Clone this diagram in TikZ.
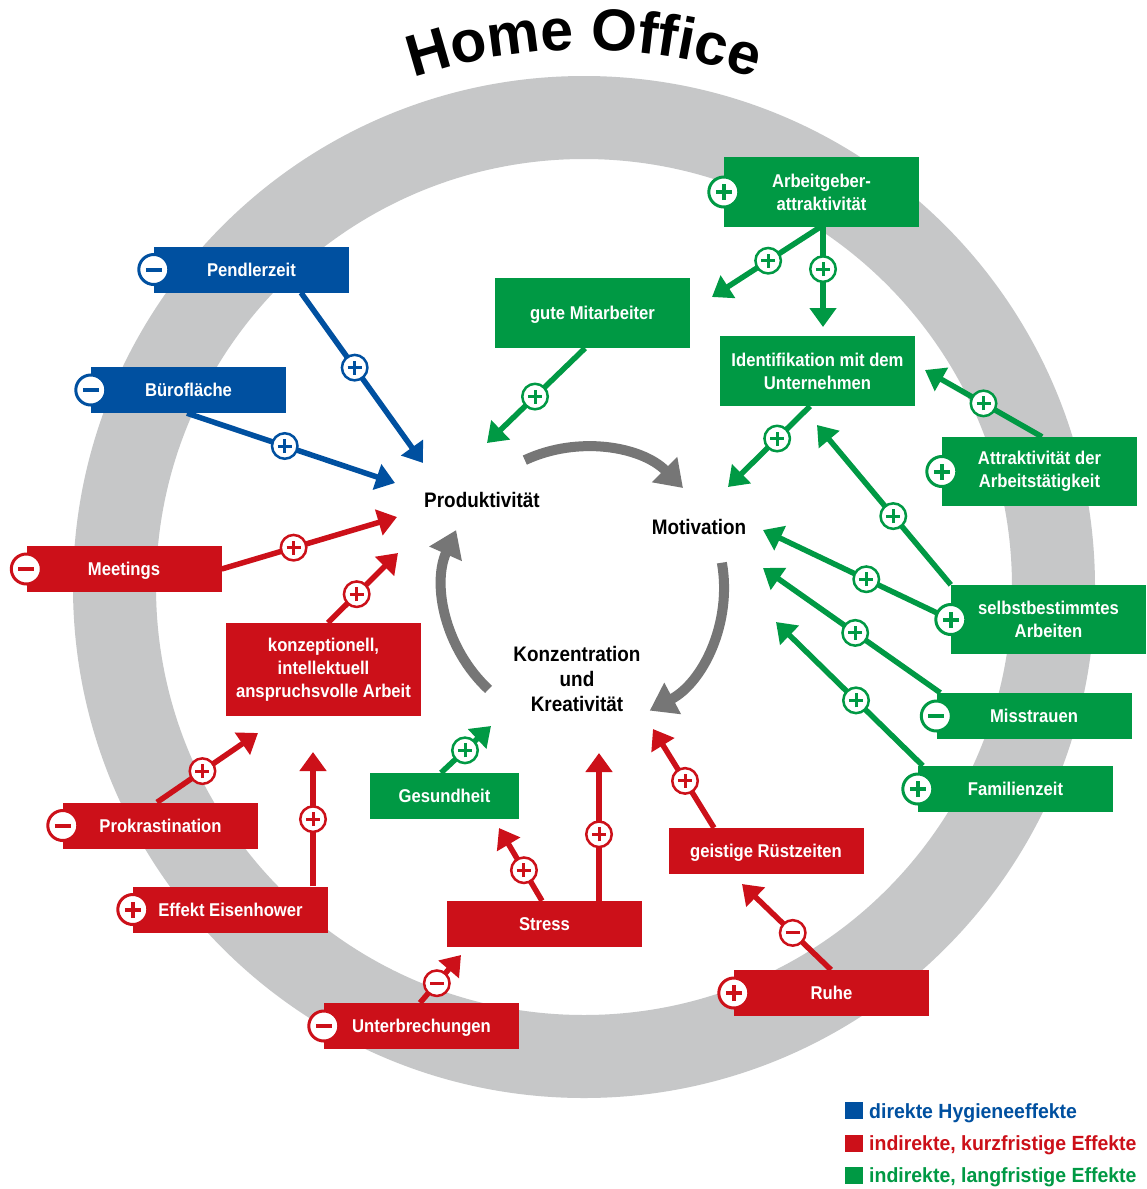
\documentclass[tikz,border=0pt]{standalone}
\usepackage{fontspec}
\setmainfont{Liberation Sans}
\newfontfamily\labfont{Liberation Sans}[FakeStretch=0.9]
\newfontfamily\legfont{Liberation Sans}[FakeStretch=0.95]
\usetikzlibrary{arrows.meta,decorations.text,calc}
\pgfdeclarelayer{bg}
\pgfdeclarelayer{conn}
\pgfsetlayers{bg,conn,main}
\definecolor{hblue}{RGB}{0,80,160}
\definecolor{hred}{RGB}{204,16,25}
\definecolor{hgreen}{RGB}{0,153,68}
\definecolor{ringgray}{RGB}{198,199,200}
\definecolor{cycgray}{RGB}{118,118,118}
\newcommand\boxfnt{\labfont\bfseries\fontsize{18.5}{23}\selectfont}
\newcommand\ctrfnt{\labfont\bfseries\fontsize{21}{25}\selectfont}
\newcommand\legfnt{\legfont\bfseries\fontsize{20.5}{24}\selectfont}
\newcommand\titlefnt{\bfseries\fontsize{59}{59}\selectfont}
\tikzset{
 sgbase/.style={circle, fill=white, draw=#1, inner sep=0pt},
 sgp/.style={sgbase=#1, line width=2.5pt, minimum size=25.5pt,
   path picture={\draw[arrows=-, #1, line width=3pt]
     ([xshift=-7pt]path picture bounding box.center) -- ([xshift=7pt]path picture bounding box.center)
     ([yshift=-7pt]path picture bounding box.center) -- ([yshift=7pt]path picture bounding box.center);}},
 sgm/.style={sgbase=#1, line width=2.5pt, minimum size=25.5pt,
   path picture={\draw[arrows=-, #1, line width=3pt]
     ([xshift=-7pt]path picture bounding box.center) -- ([xshift=7pt]path picture bounding box.center);}},
 bgp/.style={sgbase=#1, line width=3pt, minimum size=30pt,
   path picture={\draw[arrows=-, #1, line width=4pt]
     ([xshift=-8pt]path picture bounding box.center) -- ([xshift=8pt]path picture bounding box.center)
     ([yshift=-8pt]path picture bounding box.center) -- ([yshift=8pt]path picture bounding box.center);}},
 bgm/.style={sgbase=#1, line width=3pt, minimum size=30pt,
   path picture={\draw[arrows=-, #1, line width=4pt]
     ([xshift=-8pt]path picture bounding box.center) -- ([xshift=8pt]path picture bounding box.center);}},
 boxm/.style={fill=#1, text=white, font=\boxfnt, align=center, inner sep=0pt,
   minimum width=195pt, minimum height=46pt},
 box/.style={boxm=#1, text height=13.2pt, text depth=0pt},
 arr/.style={draw=#1, line width=5.5pt, -{Triangle[length=19pt,width=26pt]}},
 cyc/.style={draw=cycgray, line width=10pt, -{Triangle[length=26pt,width=34pt]}},
 ctrm/.style={font=\ctrfnt, align=center, inner sep=0pt},
 ctr/.style={ctrm, text height=15pt, text depth=0pt},
 legsq/.style={fill=#1, minimum size=17.5pt, inner sep=0pt},
 legtxt/.style={font=\legfnt, text=#1, anchor=base west, inner sep=0pt},
}
\begin{document}
\begin{tikzpicture}[x=1pt,y=-1pt]
\useasboundingbox (0,0) rectangle (1147,1189);
\coordinate (C) at (584,587);
\begin{pgfonlayer}{bg}
\fill[white] (0,0) rectangle (1147,1189);
\fill[ringgray, even odd rule] (C) circle[radius=511] (C) circle[radius=428];
\path[decorate, decoration={text along path, text={|\titlefnt|Home Office}, text align=center}]
  ($(C)+(235:537)$) arc[start angle=235, end angle=305, radius=537];
\draw[cyc] ($(C)+(-115:140)$) arc[start angle=-115, end angle=-45, radius=140];
\draw[cyc] ($(C)+(-10:140)$) arc[start angle=-10, end angle=62, radius=140];
\draw[cyc] ($(C)+(133:140)$) arc[start angle=133, end angle=204, radius=140];
\end{pgfonlayer}

% centre labels
\node[ctr] (prod) at (482,500) {Produktivität};
\node[ctr] (motiv) at (699,527) {Motivation};
\node[ctrm] (konzk) at (577,679) {Konzentration\\und\\Kreativität};

% boxes
\node[box=hblue] (pend) at (251.5,269.5) {Pendlerzeit};
\node[box=hblue] (buero) at (188.5,390) {Bürofläche};
\node[box=hred] (meet) at (124,569) {Meetings};
\node[boxm=hred, minimum height=93pt] (konz) at (323.5,669.5) {konzeptionell,\\intellektuell\\anspruchsvolle Arbeit};
\node[box=hred] (prok) at (160.5,825.5) {Prokrastination};
\node[box=hred] (eisen) at (230.5,909.5) {Effekt Eisenhower};
\node[box=hgreen, minimum width=149pt] (gesund) at (444.5,796) {Gesundheit};
\node[box=hred] (stress) at (544.5,924) {Stress};
\node[box=hred] (gruest) at (766,851) {geistige Rüstzeiten};
\node[box=hred] (ruhe) at (831.5,993) {Ruhe};
\node[box=hred] (unter) at (421.5,1026) {Unterbrechungen};
\node[boxm=hgreen, minimum height=70pt] (agb) at (821.5,192) {Arbeitgeber-\\attraktivität};
\node[box=hgreen, minimum height=70pt] (gute) at (592.5,313) {gute Mitarbeiter};
\node[boxm=hgreen, minimum height=70pt] (ident) at (817.5,371) {Identifikation mit dem\\Unternehmen};
\node[boxm=hgreen, minimum height=69pt] (attr) at (1039.5,471.5) {Attraktivität der\\Arbeitstätigkeit};
\node[boxm=hgreen, minimum height=69pt] (selbst) at (1048.5,619.5) {selbstbestimmtes\\Arbeiten};
\node[box=hgreen] (miss) at (1034,716) {Misstrauen};
\node[box=hgreen] (fam) at (1015.5,789) {Familienzeit};

% arrow tips
\coordinate (t1) at (423,463);
\coordinate (t2) at (395,483);
\coordinate (t3) at (397,517);
\coordinate (t4) at (398,553);
\coordinate (t5) at (258,733);
\coordinate (t6) at (313,752);
\coordinate (t7) at (491,726);
\coordinate (t8) at (499,828);
\coordinate (t9) at (599,753);
\coordinate (t10) at (653,729);
\coordinate (t11) at (742,884);
\coordinate (t12) at (461,955);
\coordinate (t13) at (712,297);
\coordinate (t14) at (823,327);
\coordinate (t15) at (487,443);
\coordinate (t16) at (728,487);
\coordinate (t17) at (925,370);
\coordinate (t18) at (817,425);
\coordinate (t19) at (763,530);
\coordinate (t20) at (763,568);
\coordinate (t21) at (776,622);

\begin{pgfonlayer}{conn}
\draw[arr=hblue] ([xshift=49.5pt]pend.south) -- node[sgp=hblue, pos=0.44]{} (t1);
\draw[arr=hblue] ([xshift=-1.5pt]buero.south) -- node[sgp=hblue, pos=0.47]{} (t2);
\draw[arr=hred] (meet.east) -- node[sgp=hred, pos=0.41]{} (t3);
\draw[arr=hred] ([xshift=4.5pt]konz.north) -- node[sgp=hred, pos=0.41]{} (t4);
\draw[arr=hred] ([xshift=-3.5pt]prok.north) -- node[sgp=hred, pos=0.45]{} (t5);
\draw[arr=hred] ([xshift=82.5pt]eisen.north) -- node[sgp=hred, pos=0.5]{} (t6);
\draw[arr=hgreen] ([xshift=-3.5pt]gesund.north) -- node[sgp=hgreen, pos=0.48]{} (t7);
\draw[arr=hred] ([xshift=-2.5pt]stress.north) -- node[sgp=hred, pos=0.42]{} (t8);
\draw[arr=hred] ([xshift=54.5pt]stress.north) -- node[sgp=hred, pos=0.45]{} (t9);
\draw[arr=hred] ([xshift=-52pt]gruest.north) -- node[sgp=hred, pos=0.475]{} (t10);
\draw[arr=hred] ([xshift=-0.5pt]ruhe.north) -- node[sgm=hred, pos=0.43]{} (t11);
\draw[arr=hred] ([xshift=-1.5pt]unter.north) -- node[sgm=hred, pos=0.41]{} (t12);
\draw[arr=hgreen] ([xshift=-1.5pt]agb.south) -- node[sgp=hgreen, pos=0.48]{} (t13);
\draw[arr=hgreen] ([xshift=1.5pt]agb.south) -- node[sgp=hgreen, pos=0.42]{} (t14);
\draw[arr=hgreen] ([xshift=-7.5pt]gute.south) -- node[sgp=hgreen, pos=0.51]{} (t15);
\draw[arr=hgreen] ([xshift=-7.5pt]ident.south) -- node[sgp=hgreen, pos=0.4]{} (t16);
\draw[arr=hgreen] ([xshift=2.5pt]attr.north) -- node[sgp=hgreen, pos=0.5]{} (t17);
\draw[arr=hgreen] (selbst.north west) -- node[sgp=hgreen, pos=0.43]{} (t18);
\draw[arr=hgreen] (selbst.west) -- node[sgp=hgreen, pos=0.45]{} (t19);
\draw[arr=hgreen] ([xshift=4pt]miss.north west) -- node[sgp=hgreen, pos=0.48]{} (t20);
\draw[arr=hgreen] ([xshift=5pt]fam.north west) -- node[sgp=hgreen, pos=0.455]{} (t21);
\end{pgfonlayer}

% signs on boxes
\node[bgm=hblue] (pendS) at (pend.west) {};
\node[bgm=hblue] (bueroS) at (buero.west) {};
\node[bgm=hred] (meetS) at (meet.west) {};
\node[bgm=hred] (prokS) at (prok.west) {};
\node[bgp=hred] (eisenS) at (eisen.west) {};
\node[bgm=hred] (unterS) at (unter.west) {};
\node[bgp=hred] (ruheS) at (ruhe.west) {};
\node[bgp=hgreen] (agbS) at (agb.west) {};
\node[bgp=hgreen] (attrS) at (attr.west) {};
\node[bgp=hgreen] (selbstS) at (selbst.west) {};
\node[bgm=hgreen] (missS) at (miss.west) {};
\node[bgp=hgreen] (famS) at (fam.west) {};

% legend
\node[legsq=hblue] (lq1) at (854,1110.5) {};
\node[legsq=hred] (lq2) at (854,1143.5) {};
\node[legsq=hgreen] (lq3) at (854,1175.5) {};
\node[legtxt=hblue] (lt1) at (869,1118) {direkte Hygieneeffekte};
\node[legtxt=hred] (lt2) at (869,1150) {indirekte, kurzfristige Effekte};
\node[legtxt=hgreen] (lt3) at (869,1182) {indirekte, langfristige Effekte};
\end{tikzpicture}
\end{document}
